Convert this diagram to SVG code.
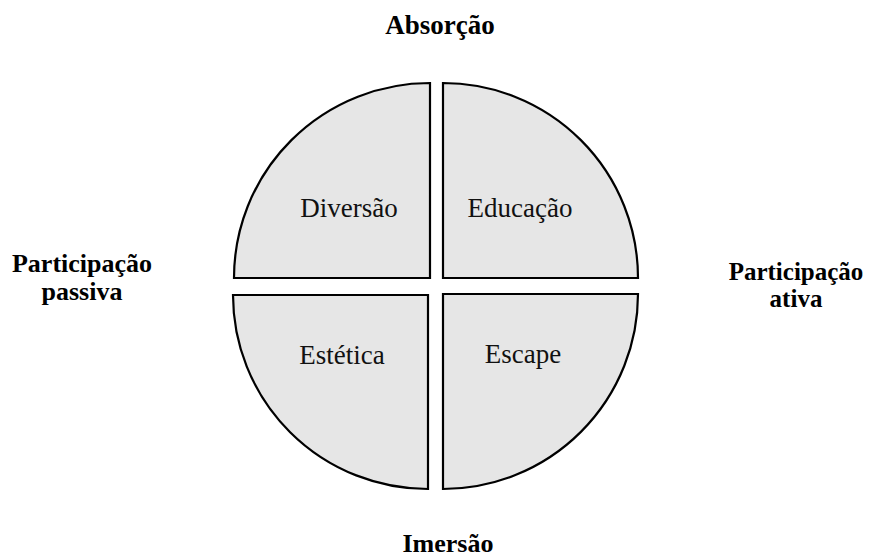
<svg xmlns="http://www.w3.org/2000/svg" width="875" height="558" viewBox="0 0 875 558">
<style>
.q{fill:#e6e6e6;stroke:#000;stroke-width:2.2;stroke-linejoin:miter}
.ql{font-family:'Liberation Serif','Times New Roman','DejaVu Serif',serif;font-size:27px;fill:#111;text-anchor:middle}
.ax{font-family:'Liberation Serif','Times New Roman','DejaVu Serif',serif;font-size:26px;font-weight:bold;fill:#000;text-anchor:middle}
</style>
<rect width="875" height="558" fill="#fff"/>
<g id="diversao">
<path class="q" d="M430,278 L234,278 A196,195 0 0 1 430,83 Z"/>
<text class="ql" x="349" y="217">Diversão</text>
</g>
<g id="educacao">
<path class="q" d="M443,278 L443,83 A195,195 0 0 1 638,278 Z"/>
<text class="ql" x="520" y="217">Educação</text>
</g>
<g id="estetica">
<path class="q" d="M428,295 L428,489 A195,194 0 0 1 233,295 Z"/>
<text class="ql" x="342" y="364">Estética</text>
</g>
<g id="escape">
<path class="q" d="M443,294 L638,294 A195,195 0 0 1 443,489 Z"/>
<text class="ql" x="523" y="363">Escape</text>
</g>
<g id="connectors"></g>
<g id="labels">
<text class="ax" x="440" y="34" style="font-size:27px">Absorção</text>
<text class="ax" x="448" y="552">Imersão</text>
<text class="ax" x="82" y="272">Participação</text>
<text class="ax" x="82" y="300">passiva</text>
<text class="ax" x="796" y="280" style="font-size:25px">Participação</text>
<text class="ax" x="796" y="307" style="font-size:25px">ativa</text>
</g>
</svg>
